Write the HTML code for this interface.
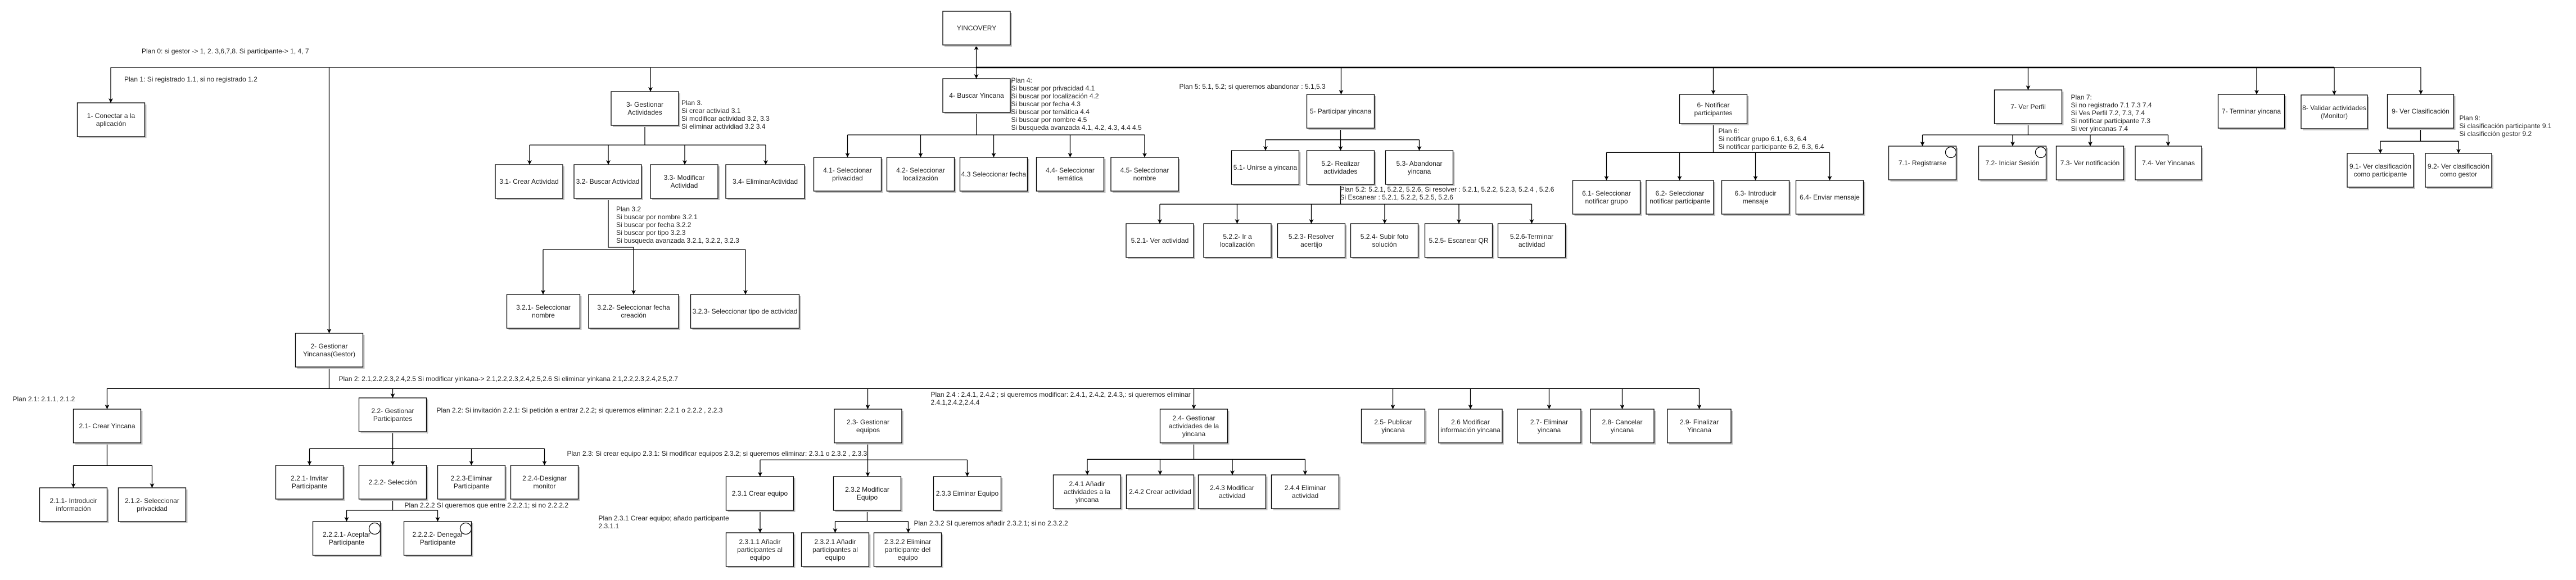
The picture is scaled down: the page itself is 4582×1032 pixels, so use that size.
<!DOCTYPE html>
<html><head><meta charset="utf-8"><style>
html,body{margin:0;padding:0;background:#fff;}
svg{display:block;}
text{font-family:"Liberation Sans",Arial,sans-serif;font-size:12px;fill:#222;}
.s{fill:#c4c4c4;}
.b{fill:#fff;stroke:#000;stroke-width:1.3;}
.l{fill:none;stroke:#000;stroke-width:1.3;}
.a{fill:none;stroke:#000;stroke-width:1.3;marker-end:url(#ar);}
</style></head><body>
<svg width="4582" height="1032" viewBox="0 0 4582 1032" xmlns="http://www.w3.org/2000/svg">
<defs><marker id="ar" markerUnits="userSpaceOnUse" markerWidth="10" markerHeight="10" refX="8" refY="4" orient="auto"><path d="M0,0 L8,4 L0,8 L2,4 z" fill="#000"/></marker></defs>

<!-- main bus -->
<path class="l" d="M197,120 H1736.6"/>
<path d="M1736.6,120 H4152" stroke="#000" stroke-width="2.6" fill="none"/>
<path class="l" d="M4152,120 H4306"/>
<path class="a" d="M1736.6,120 V81"/>
<path class="a" d="M1736.6,120 V140"/>
<path class="a" d="M197,120 V183"/>
<path class="a" d="M1157,120 V163"/>
<path class="a" d="M2385.5,120 V168"/>
<path class="a" d="M3047.5,120 V168"/>
<path class="a" d="M3607.5,120 V160"/>
<path class="a" d="M4014,120 V168"/>
<path class="a" d="M4152,120 V169"/>
<path class="a" d="M4306,120 V168"/>
<path class="a" d="M585.5,120 V593"/>

<!-- subtrees -->
<path class="l" d="M1147,223 V258 M942,258 H1362"/>
<path class="a" d="M942,258 V293"/><path class="a" d="M1082,258 V293"/><path class="a" d="M1218,258 V293"/><path class="a" d="M1362,258 V293"/>
<path class="a" d="M1082,353 V440 H1127 V524"/>
<path class="l" d="M966,444 H1326"/>
<path class="a" d="M966,444 V524"/><path class="a" d="M1326,444 V524"/>

<path class="l" d="M1737,200 V240 M1507.5,240 H2036"/>
<path class="a" d="M1507.5,240 V280"/><path class="a" d="M1637.5,240 V280"/><path class="a" d="M1767.5,240 V280"/><path class="a" d="M1903.5,240 V280"/><path class="a" d="M2036,240 V280"/>

<path class="l" d="M2384.5,228 V248.7 M2251,248.7 H2524.5"/>
<path class="a" d="M2251,248.7 V268"/><path class="a" d="M2384.5,248.7 V268"/><path class="a" d="M2524.5,248.7 V268"/>
<path class="l" d="M2384.5,328 V363.3 M2063,363.3 H2724.5"/>
<path class="a" d="M2063,363.3 V398"/><path class="a" d="M2200.5,363.3 V398"/><path class="a" d="M2332.5,363.3 V398"/><path class="a" d="M2463,363.3 V398"/><path class="a" d="M2595,363.3 V398"/><path class="a" d="M2724.5,363.3 V398"/>

<path class="l" d="M3047.5,220 V271.3 M2857.5,271.3 H3254.5"/>
<path class="a" d="M2857.5,271.3 V321"/><path class="a" d="M2987.5,271.3 V321"/><path class="a" d="M3122.5,271.3 V321"/><path class="a" d="M3254.5,271.3 V321"/>

<path class="l" d="M3607.5,220 V240 M3419.5,240 H3856.5"/>
<path class="a" d="M3419.5,240 V260"/><path class="a" d="M3580,240 V260"/><path class="a" d="M3718,240 V260"/><path class="a" d="M3856.5,240 V260"/>

<path class="l" d="M4305.5,228 V251.3 M4234,251.3 H4373"/>
<path class="a" d="M4234,251.3 V273"/><path class="a" d="M4373,251.3 V273"/>

<path class="l" d="M585.5,653 V691.3 M190.5,691.3 H3022.5"/>
<path class="a" d="M190.5,691.3 V728"/><path class="a" d="M698.5,691.3 V708"/><path class="a" d="M1543.5,691.3 V728"/><path class="a" d="M2123.5,691.3 V728"/>
<path class="a" d="M2477.5,691.3 V728"/><path class="a" d="M2615.5,691.3 V728"/><path class="a" d="M2755.5,691.3 V728"/><path class="a" d="M2885.5,691.3 V728"/><path class="a" d="M3022.5,691.3 V728"/>

<path class="l" d="M190.5,788 V828.3 M130.5,828.3 H270.5"/>
<path class="a" d="M130.5,828.3 V868"/><path class="a" d="M270.5,828.3 V868"/>

<path class="l" d="M698.5,768 V798.3 M550.5,798.3 H968.5"/>
<path class="a" d="M550.5,798.3 V828"/><path class="a" d="M698.5,798.3 V828"/><path class="a" d="M838.5,798.3 V828"/><path class="a" d="M968.5,798.3 V828"/>
<path class="l" d="M698.5,888 V908 M616.5,908 H778.5"/>
<path class="a" d="M616.5,908 V928"/><path class="a" d="M778.5,908 V928"/>
<path d="M760,710 V772" stroke="#bbb" stroke-width="1"/>

<path class="l" d="M1543.5,788 V818.3 M1352,818.3 H1720.5"/>
<path class="a" d="M1352,818.3 V848"/><path class="a" d="M1543.5,818.3 V848"/><path class="a" d="M1720.5,818.3 V848"/>
<path class="a" d="M1352,908 V948"/>
<path class="l" d="M1542.5,908 V927.7 M1485.5,927.7 H1615.5"/>
<path class="a" d="M1485.5,927.7 V948"/><path class="a" d="M1615.5,927.7 V948"/>

<path class="l" d="M2123.5,788 V817.3 M1934,817.3 H2321.5"/>
<path class="a" d="M1934,817.3 V845"/><path class="a" d="M2063.5,817.3 V845"/><path class="a" d="M2192,817.3 V845"/><path class="a" d="M2321.5,817.3 V845"/>

<!-- boxes -->
<g>
<rect class="s" x="1680" y="23" width="120" height="60"/><rect class="b" x="1677" y="20" width="120" height="60"/>
<rect class="s" x="140.5" y="186" width="120" height="60"/><rect class="b" x="137.5" y="183" width="120" height="60"/>
<rect class="s" x="1090" y="166" width="120" height="60"/><rect class="b" x="1087" y="163" width="120" height="60"/>
<rect class="s" x="884" y="296" width="120" height="60"/><rect class="b" x="881" y="293" width="120" height="60"/>
<rect class="s" x="1024" y="296" width="120" height="60"/><rect class="b" x="1021" y="293" width="120" height="60"/>
<rect class="s" x="1160" y="296" width="120" height="60"/><rect class="b" x="1157" y="293" width="120" height="60"/>
<rect class="s" x="1294" y="296" width="140" height="60"/><rect class="b" x="1291" y="293" width="140" height="60"/>
<rect class="s" x="904.5" y="527" width="130" height="60"/><rect class="b" x="901.5" y="524" width="130" height="60"/>
<rect class="s" x="1050" y="527" width="160" height="60"/><rect class="b" x="1047" y="524" width="160" height="60"/>
<rect class="s" x="1231.5" y="527" width="193" height="60"/><rect class="b" x="1228.5" y="524" width="193" height="60"/>
<rect class="s" x="1680" y="143" width="120" height="60"/><rect class="b" x="1677" y="140" width="120" height="60"/>
<rect class="s" x="1450.5" y="283" width="120" height="60"/><rect class="b" x="1447.5" y="280" width="120" height="60"/>
<rect class="s" x="1580.5" y="283" width="120" height="60"/><rect class="b" x="1577.5" y="280" width="120" height="60"/>
<rect class="s" x="1710.5" y="283" width="120" height="60"/><rect class="b" x="1707.5" y="280" width="120" height="60"/>
<rect class="s" x="1846.5" y="283" width="120" height="60"/><rect class="b" x="1843.5" y="280" width="120" height="60"/>
<rect class="s" x="1979" y="283" width="120" height="60"/><rect class="b" x="1976" y="280" width="120" height="60"/>
<rect class="s" x="2327.5" y="171" width="120" height="60"/><rect class="b" x="2324.5" y="168" width="120" height="60"/>
<rect class="s" x="2193.5" y="271" width="120" height="60"/><rect class="b" x="2190.5" y="268" width="120" height="60"/>
<rect class="s" x="2327.5" y="271" width="120" height="60"/><rect class="b" x="2324.5" y="268" width="120" height="60"/>
<rect class="s" x="2467.5" y="271" width="120" height="60"/><rect class="b" x="2464.5" y="268" width="120" height="60"/>
<rect class="s" x="2006" y="401" width="120" height="60"/><rect class="b" x="2003" y="398" width="120" height="60"/>
<rect class="s" x="2144" y="401" width="120" height="60"/><rect class="b" x="2141" y="398" width="120" height="60"/>
<rect class="s" x="2275.5" y="401" width="120" height="60"/><rect class="b" x="2272.5" y="398" width="120" height="60"/>
<rect class="s" x="2405.5" y="401" width="120" height="60"/><rect class="b" x="2402.5" y="398" width="120" height="60"/>
<rect class="s" x="2537.5" y="401" width="120" height="60"/><rect class="b" x="2534.5" y="398" width="120" height="60"/>
<rect class="s" x="2667.5" y="401" width="120" height="60"/><rect class="b" x="2664.5" y="398" width="120" height="60"/>
<rect class="s" x="2990.5" y="171" width="120" height="52"/><rect class="b" x="2987.5" y="168" width="120" height="52"/>
<rect class="s" x="2800.5" y="324" width="120" height="60"/><rect class="b" x="2797.5" y="321" width="120" height="60"/>
<rect class="s" x="2931" y="324" width="120" height="60"/><rect class="b" x="2928" y="321" width="120" height="60"/>
<rect class="s" x="3065.5" y="324" width="120" height="60"/><rect class="b" x="3062.5" y="321" width="120" height="60"/>
<rect class="s" x="3197.5" y="324" width="120" height="60"/><rect class="b" x="3194.5" y="321" width="120" height="60"/>
<rect class="s" x="3550.5" y="163" width="120" height="60"/><rect class="b" x="3547.5" y="160" width="120" height="60"/>
<rect class="s" x="3362.5" y="263" width="120" height="60"/><rect class="b" x="3359.5" y="260" width="120" height="60"/>
<rect class="s" x="3522.5" y="263" width="120" height="60"/><rect class="b" x="3519.5" y="260" width="120" height="60"/>
<rect class="s" x="3660.5" y="263" width="120" height="60"/><rect class="b" x="3657.5" y="260" width="120" height="60"/>
<rect class="s" x="3801" y="263" width="118" height="60"/><rect class="b" x="3798" y="260" width="118" height="60"/>
<rect class="s" x="3948.5" y="171" width="118" height="60"/><rect class="b" x="3945.5" y="168" width="118" height="60"/>
<rect class="s" x="4096" y="172" width="118" height="60"/><rect class="b" x="4093" y="169" width="118" height="60"/>
<rect class="s" x="4249.5" y="171" width="118" height="60"/><rect class="b" x="4246.5" y="168" width="118" height="60"/>
<rect class="s" x="4178" y="276" width="118" height="60"/><rect class="b" x="4175" y="273" width="118" height="60"/>
<rect class="s" x="4317" y="276" width="118" height="60"/><rect class="b" x="4314" y="273" width="118" height="60"/>
<rect class="s" x="528.5" y="596" width="120" height="60"/><rect class="b" x="525.5" y="593" width="120" height="60"/>
<rect class="s" x="133.5" y="731" width="120" height="60"/><rect class="b" x="130.5" y="728" width="120" height="60"/>
<rect class="s" x="73.5" y="871" width="120" height="60"/><rect class="b" x="70.5" y="868" width="120" height="60"/>
<rect class="s" x="213.5" y="871" width="120" height="60"/><rect class="b" x="210.5" y="868" width="120" height="60"/>
<rect class="s" x="641.5" y="711" width="120" height="60"/><rect class="b" x="638.5" y="708" width="120" height="60"/>
<rect class="s" x="493.5" y="831" width="120" height="60"/><rect class="b" x="490.5" y="828" width="120" height="60"/>
<rect class="s" x="641.5" y="831" width="120" height="60"/><rect class="b" x="638.5" y="828" width="120" height="60"/>
<rect class="s" x="781.5" y="831" width="120" height="60"/><rect class="b" x="778.5" y="828" width="120" height="60"/>
<rect class="s" x="911.5" y="831" width="120" height="60"/><rect class="b" x="908.5" y="828" width="120" height="60"/>
<rect class="s" x="559.5" y="931" width="120" height="60"/><rect class="b" x="556.5" y="928" width="120" height="60"/>
<rect class="s" x="721.5" y="931" width="120" height="60"/><rect class="b" x="718.5" y="928" width="120" height="60"/>
<rect class="s" x="1487" y="731" width="120" height="60"/><rect class="b" x="1484" y="728" width="120" height="60"/>
<rect class="s" x="1294.5" y="851" width="120" height="60"/><rect class="b" x="1291.5" y="848" width="120" height="60"/>
<rect class="s" x="1485.5" y="851" width="120" height="60"/><rect class="b" x="1482.5" y="848" width="120" height="60"/>
<rect class="s" x="1663.5" y="851" width="120" height="60"/><rect class="b" x="1660.5" y="848" width="120" height="60"/>
<rect class="s" x="1294.5" y="951" width="120" height="60"/><rect class="b" x="1291.5" y="948" width="120" height="60"/>
<rect class="s" x="1428.5" y="951" width="120" height="60"/><rect class="b" x="1425.5" y="948" width="120" height="60"/>
<rect class="s" x="1557.5" y="951" width="120" height="60"/><rect class="b" x="1554.5" y="948" width="120" height="60"/>
<rect class="s" x="2066.5" y="731" width="120" height="60"/><rect class="b" x="2063.5" y="728" width="120" height="60"/>
<rect class="s" x="1876.5" y="848" width="120" height="60"/><rect class="b" x="1873.5" y="845" width="120" height="60"/>
<rect class="s" x="2006.5" y="848" width="120" height="60"/><rect class="b" x="2003.5" y="845" width="120" height="60"/>
<rect class="s" x="2134.5" y="848" width="120" height="60"/><rect class="b" x="2131.5" y="845" width="120" height="60"/>
<rect class="s" x="2264.5" y="848" width="120" height="60"/><rect class="b" x="2261.5" y="845" width="120" height="60"/>
<rect class="s" x="2424.5" y="731" width="113" height="60"/><rect class="b" x="2421.5" y="728" width="113" height="60"/>
<rect class="s" x="2562" y="731" width="113" height="60"/><rect class="b" x="2559" y="728" width="113" height="60"/>
<rect class="s" x="2702" y="731" width="113" height="60"/><rect class="b" x="2699" y="728" width="113" height="60"/>
<rect class="s" x="2832" y="731" width="113" height="60"/><rect class="b" x="2829" y="728" width="113" height="60"/>
<rect class="s" x="2969" y="731" width="113" height="60"/><rect class="b" x="2966" y="728" width="113" height="60"/>
<circle class="b" cx="3470" cy="271" r="9.5"/><circle class="b" cx="3630" cy="271" r="9.5"/>
<circle class="b" cx="666.5" cy="940.5" r="10"/><circle class="b" cx="828.5" cy="940.5" r="10"/>
</g>

<!-- box labels -->
<g text-anchor="middle">
<text x="1737" y="54">YINCOVERY</text>
<text x="197.5" y="210">1- Conectar a la<tspan x="197.5" dy="14">aplicación</tspan></text>
<text x="1147" y="190">3- Gestionar<tspan x="1147" dy="14">Actividades</tspan></text>
<text x="941" y="327">3.1- Crear Actividad</text>
<text x="1081" y="327">3.2- Buscar Actividad</text>
<text x="1217" y="320">3.3- Modificar<tspan x="1217" dy="14">Actividad</tspan></text>
<text x="1361" y="327">3.4- EliminarActividad</text>
<text x="966.5" y="551">3.2.1- Seleccionar<tspan x="966.5" dy="14">nombre</tspan></text>
<text x="1127" y="551">3.2.2- Seleccionar fecha<tspan x="1127" dy="14">creación</tspan></text>
<text x="1325" y="558">3.2.3- Seleccionar tipo de actividad</text>
<text x="1737" y="174">4- Buscar Yincana</text>
<text x="1507.5" y="307">4.1- Seleccionar<tspan x="1507.5" dy="14">privacidad</tspan></text>
<text x="1637.5" y="307">4.2- Seleccionar<tspan x="1637.5" dy="14">localización</tspan></text>
<text x="1767.5" y="314">4.3 Seleccionar fecha</text>
<text x="1903.5" y="307">4.4- Seleccionar<tspan x="1903.5" dy="14">temática</tspan></text>
<text x="2036" y="307">4.5- Seleccionar<tspan x="2036" dy="14">nombre</tspan></text>
<text x="2384.5" y="202">5- Participar yincana</text>
<text x="2250.5" y="302">5.1- Unirse a yincana</text>
<text x="2384.5" y="295">5.2- Realizar<tspan x="2384.5" dy="14">actividades</tspan></text>
<text x="2524.5" y="295">5.3- Abandonar<tspan x="2524.5" dy="14">yincana</tspan></text>
<text x="2063" y="432">5.2.1- Ver actividad</text>
<text x="2201" y="425">5.2.2- Ir a<tspan x="2201" dy="14">localización</tspan></text>
<text x="2332.5" y="425">5.2.3- Resolver<tspan x="2332.5" dy="14">acertijo</tspan></text>
<text x="2462.5" y="425">5.2.4- Subir foto<tspan x="2462.5" dy="14">solución</tspan></text>
<text x="2594.5" y="432">5.2.5- Escanear QR</text>
<text x="2724.5" y="425">5.2.6-Terminar<tspan x="2724.5" dy="14">actividad</tspan></text>
<text x="3047.5" y="191">6- Notificar<tspan x="3047.5" dy="14">participantes</tspan></text>
<text x="2857.5" y="348">6.1- Seleccionar<tspan x="2857.5" dy="14">notificar grupo</tspan></text>
<text x="2988" y="348">6.2- Seleccionar<tspan x="2988" dy="14">notificar participante</tspan></text>
<text x="3122.5" y="348">6.3- Introducir<tspan x="3122.5" dy="14">mensaje</tspan></text>
<text x="3254.5" y="355">6.4- Enviar mensaje</text>
<text x="3607.5" y="194">7- Ver Perfil</text>
<text x="3419.5" y="294">7.1- Registrarse</text>
<text x="3579.5" y="294">7.2- Iniciar Sesión</text>
<text x="3717.5" y="294">7.3- Ver notificación</text>
<text x="3857" y="294">7.4- Ver Yincanas</text>
<text x="4004.5" y="202">7- Terminar yincana</text>
<text x="4152" y="196">8- Validar actividades<tspan x="4152" dy="14">(Monitor)</tspan></text>
<text x="4305.5" y="202">9- Ver Clasificación</text>
<text x="4234" y="300">9.1- Ver clasificación<tspan x="4234" dy="14">como participante</tspan></text>
<text x="4373" y="300">9.2- Ver clasificación<tspan x="4373" dy="14">como gestor</tspan></text>
<text x="585.5" y="620">2- Gestionar<tspan x="585.5" dy="14">Yincanas(Gestor)</tspan></text>
<text x="190.5" y="762">2.1- Crear Yincana</text>
<text x="130.5" y="895">2.1.1- Introducir<tspan x="130.5" dy="14">información</tspan></text>
<text x="270.5" y="895">2.1.2- Seleccionar<tspan x="270.5" dy="14">privacidad</tspan></text>
<text x="698.5" y="735">2.2- Gestionar<tspan x="698.5" dy="14">Participantes</tspan></text>
<text x="550.5" y="855">2.2.1- Invitar<tspan x="550.5" dy="14">Participante</tspan></text>
<text x="698.5" y="862">2.2.2- Selección</text>
<text x="838.5" y="855">2.2.3-Eliminar<tspan x="838.5" dy="14">Participante</tspan></text>
<text x="968.5" y="855">2.2.4-Designar<tspan x="968.5" dy="14">monitor</tspan></text>
<text x="616.5" y="955">2.2.2.1- Aceptar<tspan x="616.5" dy="14">Participante</tspan></text>
<text x="778.5" y="955">2.2.2.2- Denegar<tspan x="778.5" dy="14">Participante</tspan></text>
<text x="1544" y="755">2.3- Gestionar<tspan x="1544" dy="14">equipos</tspan></text>
<text x="1351.5" y="882">2.3.1 Crear equipo</text>
<text x="1542.5" y="875">2.3.2 Modificar<tspan x="1542.5" dy="14">Equipo</tspan></text>
<text x="1720.5" y="882">2.3.3 Eiminar Equipo</text>
<text x="1351.5" y="968">2.3.1.1 Añadir<tspan x="1351.5" dy="14">participantes al</tspan><tspan x="1351.5" dy="14">equipo</tspan></text>
<text x="1485.5" y="968">2.3.2.1 Añadir<tspan x="1485.5" dy="14">participantes al</tspan><tspan x="1485.5" dy="14">equipo</tspan></text>
<text x="1614.5" y="968">2.3.2.2 Eliminar<tspan x="1614.5" dy="14">participante del</tspan><tspan x="1614.5" dy="14">equipo</tspan></text>
<text x="2123.5" y="748">2.4- Gestionar<tspan x="2123.5" dy="14">actividades de la</tspan><tspan x="2123.5" dy="14">yincana</tspan></text>
<text x="1933.5" y="865">2.4.1 Añadir<tspan x="1933.5" dy="14">actividades a la</tspan><tspan x="1933.5" dy="14">yincana</tspan></text>
<text x="2063.5" y="879">2.4.2 Crear actividad</text>
<text x="2191.5" y="872">2.4.3 Modificar<tspan x="2191.5" dy="14">actividad</tspan></text>
<text x="2321.5" y="872">2.4.4 Eliminar<tspan x="2321.5" dy="14">actividad</tspan></text>
<text x="2478" y="755">2.5- Publicar<tspan x="2478" dy="14">yincana</tspan></text>
<text x="2615.5" y="755">2.6 Modificar<tspan x="2615.5" dy="14">información yincana</tspan></text>
<text x="2755.5" y="755">2.7- Eliminar<tspan x="2755.5" dy="14">yincana</tspan></text>
<text x="2885.5" y="755">2.8- Cancelar<tspan x="2885.5" dy="14">yincana</tspan></text>
<text x="3022.5" y="755">2.9- Finalizar<tspan x="3022.5" dy="14">Yincana</tspan></text>
</g>

<!-- plans -->
<g>
<text x="252" y="95">Plan 0: si gestor -&gt; 1, 2. 3,6,7,8. Si participante-&gt; 1, 4, 7</text>
<text x="221" y="145">Plan 1: Si registrado 1.1, si no registrado 1.2</text>
<text x="1212" y="187">Plan 3.<tspan x="1212" dy="14">Si crear activiad 3.1</tspan><tspan x="1212" dy="14">Si modificar actividad 3.2, 3.3</tspan><tspan x="1212" dy="14">Si eliminar actividiad 3.2 3.4</tspan></text>
<text x="1096" y="376">Plan 3.2<tspan x="1096" dy="14">Si buscar por nombre  3.2.1</tspan><tspan x="1096" dy="14">Si buscar por fecha 3.2.2</tspan><tspan x="1096" dy="14">Si buscar por tipo  3.2.3</tspan><tspan x="1096" dy="14">Si  busqueda avanzada 3.2.1, 3.2.2, 3.2.3</tspan></text>
<text x="1798.5" y="147">Plan 4:<tspan x="1798.5" dy="14">Si buscar por privacidad 4.1</tspan><tspan x="1798.5" dy="14">Si buscar por localización 4.2</tspan><tspan x="1798.5" dy="14">Si buscar por fecha 4.3</tspan><tspan x="1798.5" dy="14">Si buscar por temática 4.4</tspan><tspan x="1798.5" dy="14">Si buscar por nombre 4.5</tspan><tspan x="1798.5" dy="14">Si busqueda avanzada 4.1, 4.2, 4.3, 4.4 4.5</tspan></text>
<text x="2097.5" y="158">Plan 5: 5.1, 5.2; si queremos abandonar : 5.1,5.3</text>
<text x="2383.5" y="341">Plan 5.2: 5.2.1, 5.2.2, 5.2.6, Si resolver : 5.2.1, 5.2.2, 5.2.3, 5.2.4 , 5.2.6<tspan x="2383.5" dy="14">Si Escanear : 5.2.1, 5.2.2, 5.2.5, 5.2.6</tspan></text>
<text x="3056.5" y="237">Plan 6:<tspan x="3056.5" dy="14">Si notificar grupo 6.1, 6.3, 6.4</tspan><tspan x="3056.5" dy="14">Si notificar participante 6.2, 6.3, 6.4</tspan></text>
<text x="3683.5" y="177">Plan 7:<tspan x="3683.5" dy="14">Si no registrado 7.1 7.3 7.4</tspan><tspan x="3683.5" dy="14">Si Ves Perfil 7.2, 7.3, 7.4</tspan><tspan x="3683.5" dy="14">Si notificar participante 7.3</tspan><tspan x="3683.5" dy="14">Si ver yincanas 7.4</tspan></text>
<text x="4374.5" y="214">Plan 9:<tspan x="4374.5" dy="14">Si clasificación participante 9.1</tspan><tspan x="4374.5" dy="14">Si clasificción gestor 9.2</tspan></text>
<text x="602.5" y="678">Plan 2:  2.1,2.2,2.3,2.4,2.5 Si modificar yinkana-&gt; 2.1,2.2,2.3,2.4,2.5,2.6 Si eliminar yinkana 2.1,2.2,2.3,2.4,2.5,2.7</text>
<text x="22.5" y="714">Plan 2.1: 2.1.1, 2.1.2</text>
<text x="776.5" y="734">Plan 2.2: Si invitación 2.2.1: Si petición a entrar 2.2.2; si queremos eliminar: 2.2.1 o 2.2.2 , 2.2.3</text>
<text x="719.5" y="903">Plan 2.2.2 SI queremos que entre 2.2.2.1; si no 2.2.2.2</text>
<text x="1008.5" y="811">Plan 2.3: Si crear equipo 2.3.1: Si modificar equipos 2.3.2; si queremos eliminar: 2.3.1 o 2.3.2 , 2.3.3</text>
<text x="1064.5" y="926">Plan 2.3.1 Crear equipo; añado participante<tspan x="1064.5" dy="14">2.3.1.1</tspan></text>
<text x="1625.5" y="935">Plan 2.3.2 SI queremos añadir  2.3.2.1; si no 2.3.2.2</text>
<text x="1655.5" y="706">Plan 2.4 : 2.4.1, 2.4.2 ; si queremos modificar: 2.4.1, 2.4.2, 2.4.3,: si queremos eliminar<tspan x="1655.5" dy="14">2.4.1,2.4.2,2.4.4</tspan></text>
</g>
</svg>
</body></html>
